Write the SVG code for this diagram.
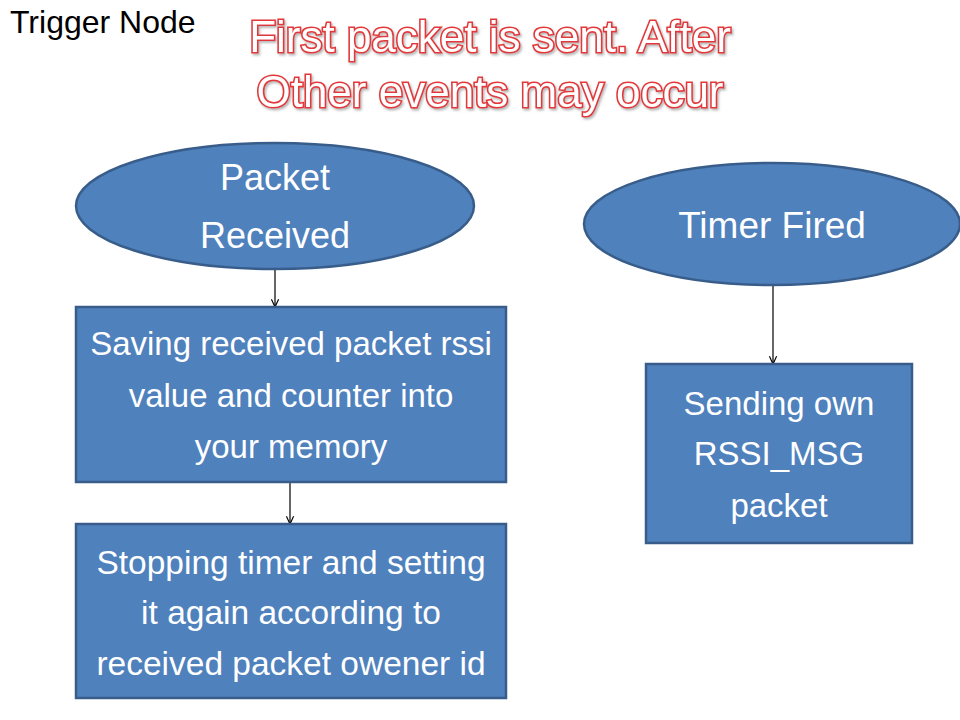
<svg xmlns="http://www.w3.org/2000/svg" width="960" height="720" viewBox="0 0 960 720">
<style>
.shape{fill:#4F81BD;stroke:#385D8A;stroke-width:2.5}
.lbl{font-family:"Liberation Sans",Arial,sans-serif;fill:#FFFFFF;text-anchor:middle}
.conn{stroke:#000000;stroke-width:1.2;fill:none;marker-end:url(#arr)}
.title{font-family:"Liberation Sans",Arial,sans-serif;font-size:44px;fill:#FFFFFF;stroke:#E2393B;stroke-width:3.2;paint-order:stroke;text-anchor:middle;filter:url(#shadow)}
</style>
<defs>
<marker id="arr" viewBox="0 0 10 10" refX="9.5" refY="5" markerWidth="9" markerHeight="9" markerUnits="userSpaceOnUse" orient="auto">
<path d="M1,1 L9.5,5 L1,9" fill="none" stroke="#000" stroke-width="1.3"/>
</marker>
<filter id="shadow" x="-5%" y="-20%" width="110%" height="150%">
<feDropShadow dx="1.5" dy="2" stdDeviation="1.2" flood-color="#808080" flood-opacity="0.55"/>
</filter>
</defs>
<rect width="960" height="720" fill="#FFFFFF"/>
<g id="heading">
<text x="10" y="33" font-family="'Liberation Sans',Arial,sans-serif" font-size="32" fill="#000">Trigger Node</text>
<text class="title" x="490" y="52">First packet is sent. After</text>
<text class="title" x="490" y="107">Other events may occur</text>
</g>
<g id="connectors">
<line class="conn" x1="275" y1="270" x2="275" y2="307"/>
<line class="conn" x1="290" y1="482" x2="290" y2="524"/>
<line class="conn" x1="773" y1="285" x2="773" y2="364"/>
</g>
<g id="packet-received">
<ellipse class="shape" cx="275" cy="206" rx="199" ry="63"/>
<text class="lbl" x="275" y="190" font-size="36">Packet</text>
<text class="lbl" x="275" y="248" font-size="36">Received</text>
</g>
<g id="timer-fired">
<ellipse class="shape" cx="772" cy="224" rx="188" ry="61"/>
<text class="lbl" x="772" y="238" font-size="37">Timer Fired</text>
</g>
<g id="saving">
<rect class="shape" x="76" y="307" width="430" height="175"/>
<text class="lbl" x="291" y="355" font-size="33">Saving received packet rssi</text>
<text class="lbl" x="291" y="407" font-size="33">value and counter into</text>
<text class="lbl" x="291" y="458" font-size="33">your memory</text>
</g>
<g id="stopping">
<rect class="shape" x="76" y="524" width="430" height="174"/>
<text class="lbl" x="291" y="574" font-size="33.5">Stopping timer and setting</text>
<text class="lbl" x="291" y="624" font-size="33.5">it again according to</text>
<text class="lbl" x="291" y="675" font-size="33.5">received packet owener id</text>
</g>
<g id="sending">
<rect class="shape" x="646" y="364" width="266" height="179"/>
<text class="lbl" x="779" y="415" font-size="33">Sending own</text>
<text class="lbl" x="779" y="465" font-size="33">RSSI_MSG</text>
<text class="lbl" x="779" y="517" font-size="33">packet</text>
</g>
</svg>
